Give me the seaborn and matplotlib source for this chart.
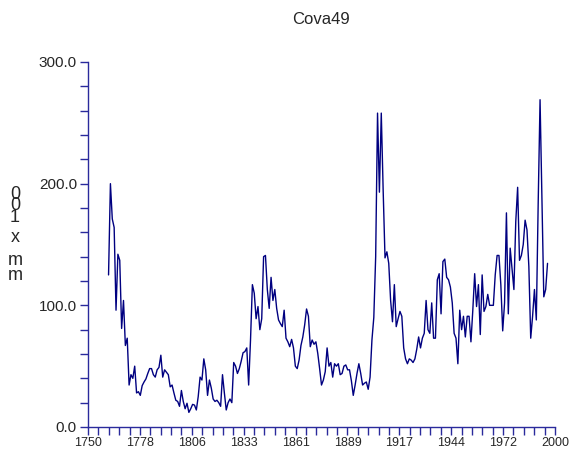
import numpy as np
import pandas as pd
import matplotlib
matplotlib.use('Agg')
import matplotlib.pyplot as plt
import seaborn as sns

# ring width series, one value per year (0.01 mm)
first_year = 1761
ring_width = [
    125, 200, 171, 164, 96, 142, 137, 81, 104, 67,        # 1761-1770
    73, 34.5, 43, 40, 50, 28, 29, 26, 34, 37,             # 1771-1780
    39.5, 44, 48, 48, 43, 41, 47, 49, 59, 41,             # 1781-1790
    47, 45, 43, 33, 34.5, 28, 22, 21, 17, 30,             # 1791-1800
    21, 15, 19.5, 12, 15, 18.6, 18, 14, 25, 41,           # 1801-1810
    38.6, 56, 47, 26, 38.6, 32, 23, 21, 22, 20,           # 1811-1820
    17, 43, 28, 14, 20, 23, 20, 53, 50, 44,               # 1821-1830
    48, 54, 61, 62, 65, 34.5, 71.5, 117, 110, 89,         # 1831-1840
    99, 80, 89, 140, 141, 113, 97.5, 123, 104, 113,       # 1841-1850
    97.5, 88, 85, 82.5, 96, 73, 70, 66, 72, 65,           # 1851-1860
    50, 48, 55, 67, 74, 84, 97, 91, 66, 71.5,             # 1861-1870
    68, 70, 60.5, 48, 34.5, 38.6, 45.5, 65, 50, 53,       # 1871-1880
    41, 52, 50, 52, 43, 44, 50, 51, 47, 47,               # 1881-1890
    38, 26, 34.5, 44, 52, 44, 34.5, 36, 37, 31,           # 1891-1900
    41, 71.5, 90, 140, 258, 193, 258, 195, 139, 144,      # 1901-1910
    134.5, 104, 86.5, 117, 82.5, 89, 95, 91, 65, 56,      # 1911-1920
    52, 56, 55, 53, 56, 64, 74, 65, 73, 77,               # 1921-1930
    104, 80, 77, 102, 73, 73, 121, 126, 93, 136,          # 1931-1940
    138, 123, 121, 115, 102, 77, 73, 52, 96, 80,          # 1941-1950
    91, 74, 91, 91, 70, 96, 126, 99, 117, 76,             # 1951-1960
    125, 95, 99, 109, 100, 100, 100, 125, 141, 141,       # 1961-1970
    117, 79, 102, 176, 93, 147, 130, 113, 169, 197,       # 1971-1980
    137, 141, 150, 170, 162, 132, 73, 91, 113, 88,        # 1981-1990
    184, 269, 189, 107, 113, 134.5,                       # 1991-1996
]
years = np.arange(first_year, first_year + len(ring_width))
df = pd.DataFrame({'year': years, 'width': ring_width})

x_major = np.linspace(1750, 2000, 10)
x_labels = [str(int(round(v))) for v in x_major]
y_major = [0, 100, 200, 300]

sns.set_style('white')
plt.rcParams['font.family'] = ['Liberation Sans', 'DejaVu Sans']

axis_blue = '#2a2a9c'
line_blue = '#000080'

fig = plt.figure(figsize=(5.69, 4.51), dpi=100)
ax = fig.add_axes([88/569, 24/451, 467/569, 365/451])

sns.lineplot(data=df, x='year', y='width', color=line_blue, linewidth=1.0, ax=ax)

ax.set_xlim(1750, 2000)
ax.set_ylim(0, 300)
ax.set_xticks(x_major)
ax.set_xticklabels(x_labels, fontsize=9)
ax.set_xticks(np.linspace(1750, 2000, 46), minor=True)
ax.set_yticks(y_major)
ax.set_yticklabels([f'{v:.1f}' for v in y_major], fontsize=11)
ax.set_yticks(np.arange(0, 301, 20), minor=True)
ax.tick_params(which='both', direction='out', length=6, width=1,
               color=axis_blue, bottom=True, left=True)
ax.tick_params(axis='y', pad=2)
ax.tick_params(axis='x', pad=1)

for side in ['top', 'right']:
    ax.spines[side].set_visible(False)
for side in ['left', 'bottom']:
    ax.spines[side].set_color(axis_blue)
    ax.spines[side].set_linewidth(1)

ax.set_xlabel('')
ax.set_ylabel('')

fig.text(0.565, 1 - 20/451, 'Cova49', ha='center', va='center', fontsize=12)

# stacked y label "0.01 x mm", drawn as three blocks
fig.text(15/569, 1 - 206/451, '0\n0\n1', ha='center', va='center',
         fontsize=13, linespacing=0.56)
fig.text(15/569, 1 - 237/451, 'x', ha='center', va='center', fontsize=13)
fig.text(15/569, 1 - 268/451, 'm\nm', ha='center', va='center',
         fontsize=13, linespacing=0.83)

plt.savefig('out.png', dpi=100)
